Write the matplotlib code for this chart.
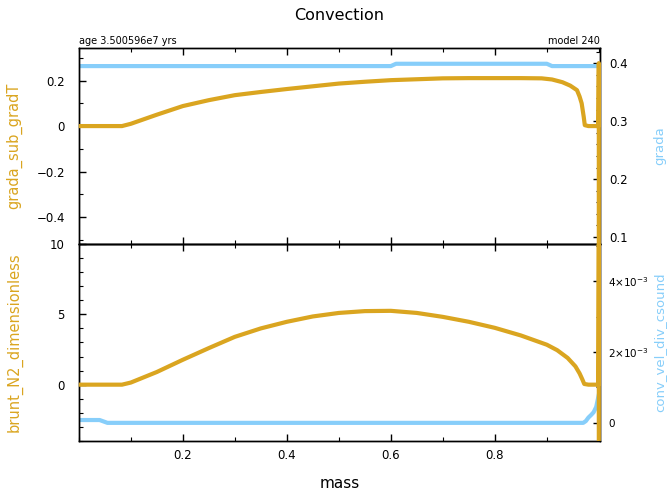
import matplotlib
matplotlib.use("Agg")
import matplotlib.pyplot as plt
from matplotlib.ticker import MultipleLocator, FixedLocator, FuncFormatter

plt.rcParams['font.family'] = ['DejaVu Sans']
plt.rcParams['mathtext.fontset'] = 'dejavusans'

ORANGE = '#DAA520'
BLUE = '#87CEFA'

# top panel: grada_sub_gradT (left) and grada (right)
mass_top = [0.0, 0.02, 0.05, 0.083, 0.1, 0.15, 0.2, 0.25, 0.3, 0.35, 0.4, 0.45,
            0.5, 0.55, 0.6, 0.65, 0.7, 0.75, 0.8, 0.85, 0.89, 0.91, 0.93, 0.945,
            0.958, 0.963, 0.967, 0.971, 0.973, 0.98, 0.99, 0.999, 1.0, 1.0]
grada_sub_gradT = [0.0, 0.0, 0.0, 0.0, 0.01, 0.05, 0.088, 0.114, 0.136, 0.15, 0.163, 0.175,
                   0.187, 0.195, 0.202, 0.206, 0.21, 0.211, 0.211, 0.211, 0.21, 0.205, 0.193, 0.178,
                   0.158, 0.13, 0.1, 0.04, 0.004, 0.0, 0.0, 0.0, 0.277, -0.519]

mass_grada = [0.0, 0.6, 0.61, 0.9, 0.91, 1.0]
grada = [0.395, 0.395, 0.399, 0.399, 0.395, 0.395]

# bottom panel: brunt_N2_dimensionless (left) and conv_vel_div_csound (right)
mass_bot = [0.0, 0.05, 0.083, 0.1, 0.15, 0.2, 0.25, 0.3, 0.35, 0.4, 0.45, 0.5,
            0.55, 0.6, 0.65, 0.7, 0.75, 0.8, 0.85, 0.9, 0.92, 0.94, 0.955, 0.963,
            0.968, 0.972, 0.98, 0.99, 0.999, 1.0, 1.0]
brunt_N2 = [0.0, 0.0, 0.0, 0.15, 0.9, 1.77, 2.6, 3.4, 4.0, 4.47, 4.85, 5.1,
            5.23, 5.25, 5.1, 4.82, 4.47, 4.04, 3.5, 2.84, 2.45, 1.9, 1.3, 0.8,
            0.4, 0.05, 0.0, 0.0, 0.0, 10.0, -4.0]

mass_conv = [0.0, 0.04, 0.055, 0.5, 0.97, 0.975, 0.98, 0.985, 0.99, 0.995, 1.0]
conv_vel = [0.08e-3, 0.08e-3, 0.0, 0.0, 0.0, 0.05e-3, 0.15e-3, 0.22e-3, 0.3e-3, 0.45e-3, 0.8e-3]


def sci_fmt(v, pos):
    if abs(v) < 1e-12:
        return '0'
    m = v / 1e-3
    return r'$%d{\times}10^{-3}$' % round(m)


def plain_fmt(v, pos):
    if abs(v) < 1e-9:
        return '0'
    return ('%g' % v).replace('-', '\u2212')


fig = plt.figure(figsize=(6.68, 4.91), dpi=100)
ax1 = fig.add_axes([0.118, 0.503, 0.780, 0.399])
ax2 = fig.add_axes([0.118, 0.102, 0.780, 0.401])
ax1r = ax1.twinx()
ax2r = ax2.twinx()

ax1r.plot(mass_grada, grada, color=BLUE, lw=3)
ax1.plot(mass_top, grada_sub_gradT, color=ORANGE, lw=3, clip_on=False,
         solid_capstyle='butt', zorder=3)
ax2r.plot(mass_conv, conv_vel, color=BLUE, lw=3)
ax2.plot(mass_bot, brunt_N2, color=ORANGE, lw=3, clip_on=False,
         solid_capstyle='butt', zorder=3)

# keep orange lines in front of the twin axes
for a, ar in ((ax1, ax1r), (ax2, ax2r)):
    a.set_zorder(ar.get_zorder() + 1)
    a.patch.set_visible(False)

ax1.set_xlim(0, 1.002)
ax2.set_xlim(0, 1.002)
ax1.set_ylim(-0.519, 0.343)
ax1r.set_ylim(0.088, 0.426)
ax2.set_ylim(-4, 10)
ax2r.set_ylim(-0.51e-3, 5.05e-3)

for a in (ax1, ax2):
    a.xaxis.set_major_locator(FixedLocator([0.2, 0.4, 0.6, 0.8]))
    a.xaxis.set_minor_locator(MultipleLocator(0.1))
    a.tick_params(axis='x', which='both', direction='in', top=True, bottom=True)

ax1.tick_params(axis='x', labelbottom=False)
ax1.yaxis.set_major_locator(FixedLocator([-0.4, -0.2, 0.0, 0.2]))
ax1.yaxis.set_minor_locator(MultipleLocator(0.1))
ax1.yaxis.set_major_formatter(FuncFormatter(plain_fmt))
ax1r.yaxis.set_major_locator(FixedLocator([0.1, 0.2, 0.3, 0.4]))
ax1r.yaxis.set_minor_locator(MultipleLocator(0.02))
ax2.yaxis.set_major_locator(FixedLocator([0, 5, 10]))
ax2.yaxis.set_minor_locator(MultipleLocator(1))
ax2r.yaxis.set_major_locator(FixedLocator([0, 2e-3, 4e-3]))
ax2r.yaxis.set_minor_locator(MultipleLocator(1e-3))
ax2r.yaxis.set_major_formatter(FuncFormatter(sci_fmt))

for a in (ax1, ax2, ax1r, ax2r):
    a.tick_params(which='major', direction='in', length=5, width=1, labelsize=8.5, color='black')
    a.tick_params(which='minor', direction='in', length=3, width=0.8)
    for s in a.spines.values():
        s.set_linewidth(1)
ax1.tick_params(axis='y', pad=10)
ax2.tick_params(axis='y', pad=10)
ax1r.tick_params(axis='y', pad=7)
ax2r.tick_params(axis='y', pad=6, labelsize=7.5)
ax2.tick_params(axis='x', pad=6)

ax1.set_ylabel('grada_sub_gradT', color=ORANGE, fontsize=10.5)
ax1r.set_ylabel('grada', color=BLUE, fontsize=9.5, rotation=90)
ax2.set_ylabel('brunt_N2_dimensionless', color=ORANGE, fontsize=10.5)
ax2r.set_ylabel('conv_vel_div_csound', color=BLUE, fontsize=9.5, rotation=90)
ax1.yaxis.set_label_coords(-0.108, 0.5)
ax2.yaxis.set_label_coords(-0.108, 0.5)
ax1r.yaxis.set_label_coords(1.103, 0.5)
ax2r.yaxis.set_label_coords(1.103, 0.5)

ax2.set_xlabel('mass', fontsize=11, labelpad=10)

fig.text(0.508, 0.969, 'Convection', ha='center', va='center', fontsize=11.5)
ax1.text(0.0, 1.01, 'age 3.500596e7 yrs', transform=ax1.transAxes, ha='left', va='bottom', fontsize=7)
ax1.text(1.0, 1.01, 'model 240', transform=ax1.transAxes, ha='right', va='bottom', fontsize=7)

fig.savefig('out.png', dpi=100)
